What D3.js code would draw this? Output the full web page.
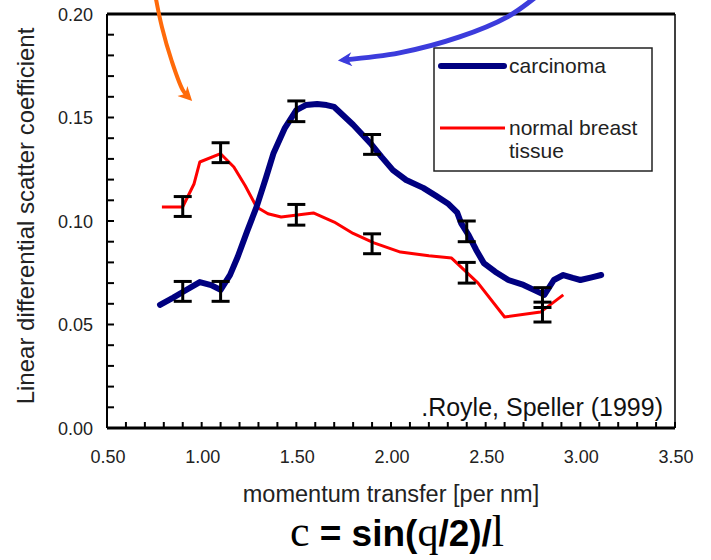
<!DOCTYPE html>
<html>
<head>
<meta charset="utf-8">
<script src="https://cdn.jsdelivr.net/npm/d3@7"></script>
<style>
  html, body { margin: 0; padding: 0; background: #ffffff; }
  svg { display: block; }
  text { font-family: "Liberation Sans", Arial, sans-serif; }
</style>
</head>
<body>
<svg id="chart" width="711" height="560"></svg>
<script>
// ---------- data ----------
const xTicks = [0.5, 1.0, 1.5, 2.0, 2.5, 3.0, 3.5];
const yTicks = [0.00, 0.05, 0.10, 0.15, 0.20];

const carcinomaX = [0.78, 0.85, 0.90, 0.99, 1.05, 1.10, 1.15, 1.19, 1.24, 1.29, 1.34, 1.38, 1.44, 1.50, 1.55, 1.61, 1.66, 1.70, 1.80, 1.89, 1.95, 2.01, 2.08, 2.17, 2.24, 2.30, 2.35, 2.37, 2.41, 2.45, 2.49, 2.55, 2.62, 2.70, 2.76, 2.81, 2.86, 2.91, 2.96, 3.00, 3.06, 3.11];
const carcinomaY = [0.0595, 0.0630, 0.0657, 0.0705, 0.0690, 0.0667, 0.0740, 0.0826, 0.0950, 0.1068, 0.1210, 0.1329, 0.1450, 0.1536, 0.1560, 0.1565, 0.1560, 0.1551, 0.1465, 0.1377, 0.1310, 0.1246, 0.1198, 0.1160, 0.1120, 0.1085, 0.1040, 0.0990, 0.0932, 0.0860, 0.0797, 0.0755, 0.0715, 0.0691, 0.0665, 0.0643, 0.0715, 0.0739, 0.0725, 0.0715, 0.0728, 0.0739];

const normalX = [0.79, 0.90, 0.96, 0.99, 1.10, 1.17, 1.23, 1.29, 1.35, 1.42, 1.59, 1.70, 1.80, 1.91, 2.05, 2.20, 2.32, 2.46, 2.60, 2.79, 2.91];
const normalY = [0.1068, 0.1068, 0.1180, 0.1285, 0.1325, 0.1261, 0.1170, 0.1068, 0.1035, 0.1019, 0.1039, 0.0995, 0.0940, 0.0894, 0.0850, 0.0832, 0.0821, 0.0700, 0.0536, 0.0560, 0.0643];

const errorX = [0.9, 1.1, 1.5, 1.9, 2.4, 2.8];
const carcinomaErrCenter = [0.066, 0.066, 0.153, 0.137, 0.095, 0.063];
const normalErrCenter = [0.107, 0.133, 0.103, 0.089, 0.075, 0.056];
const errHalf = [0.0048, 0.0048, 0.0050, 0.0048, 0.0050, 0.0048];

// annotation arrows (data units)
const orangeArrowX = [0.755, 0.790, 0.840, 0.900, 0.929];
const orangeArrowY = [0.209, 0.1937, 0.1778, 0.1633, 0.1599];
const blueArrowX = [2.775, 2.615, 2.362, 2.045, 1.749];
const blueArrowY = [0.209, 0.1986, 0.1889, 0.1812, 0.1778];

const seriesNames = ["carcinoma", "normal breast", "tissue"];

// ---------- layout ----------
const svg = d3.select("#chart");
const plotL = 107, plotR = 675, plotT = 14, plotB = 428;
const x = d3.scaleLinear().domain([0.5, 3.5]).range([plotL, plotR]);
const y = d3.scaleLinear().domain([0, 0.2]).range([plotB, plotT]);

const navy = "#000080", red = "#ff0000";

const xMinor = d3.range(5, 36).map(d => d / 10);
const yMinor = d3.range(0, 21).map(d => d / 100);

const g = svg.append("g");

g.selectAll(".ytk").data(yMinor).enter().append("line")
  .attr("x1", plotL).attr("x2", plotL + 7)
  .attr("y1", d => y(d)).attr("y2", d => y(d))
  .attr("stroke", "#000").attr("stroke-width", 2);
g.selectAll(".xtk").data(xMinor).enter().append("line")
  .attr("x1", d => x(d)).attr("x2", d => x(d))
  .attr("y1", plotB).attr("y2", plotB - 6)
  .attr("stroke", "#000").attr("stroke-width", 2);

g.append("line").attr("x1", plotL).attr("x2", plotR).attr("y1", plotT).attr("y2", plotT).attr("stroke", "#000").attr("stroke-width", 3);
g.append("line").attr("x1", plotL).attr("x2", plotR).attr("y1", plotB).attr("y2", plotB).attr("stroke", "#000").attr("stroke-width", 3);
g.append("line").attr("x1", plotL).attr("x2", plotL).attr("y1", plotT).attr("y2", plotB).attr("stroke", "#000").attr("stroke-width", 2);
g.append("line").attr("x1", plotR).attr("x2", plotR).attr("y1", plotT).attr("y2", plotB).attr("stroke", "#000").attr("stroke-width", 1.5);

g.selectAll(".xl").data(xTicks).enter().append("text")
  .attr("x", d => x(d) + 1).attr("y", 463)
  .attr("text-anchor", "middle").attr("font-size", 18).attr("fill", "#222")
  .text(d => d3.format(".2f")(d));
g.selectAll(".yl").data(yTicks).enter().append("text")
  .attr("x", 93).attr("y", d => y(d) + 6.5)
  .attr("text-anchor", "end").attr("font-size", 18).attr("fill", "#222")
  .text(d => d3.format(".2f")(d));

g.append("text").attr("x", 391).attr("y", 502).attr("text-anchor", "middle")
  .attr("font-size", 23.5).attr("fill", "#222").text("momentum transfer [per nm]");
g.append("text").attr("transform", "translate(34,216) rotate(-90)")
  .attr("text-anchor", "middle").attr("font-size", 24).attr("fill", "#222")
  .text("Linear differential scatter coefficient");

const line = d3.line().x(d => x(d[0])).y(d => y(d[1])).curve(d3.curveLinear);
const normalPts = normalX.map((v, i) => [v, normalY[i]]);
const carcPts = carcinomaX.map((v, i) => [v, carcinomaY[i]]);

g.append("path").attr("d", line(normalPts)).attr("fill", "none")
  .attr("stroke", red).attr("stroke-width", 3).attr("stroke-linejoin", "round");
g.append("path").attr("d", line(carcPts)).attr("fill", "none")
  .attr("stroke", navy).attr("stroke-width", 6).attr("stroke-linejoin", "round").attr("stroke-linecap", "round");

function errBars(centers) {
  const data = errorX.map((v, i) => ({ x: v, c: centers[i], h: errHalf[i] }));
  const eg = g.append("g").attr("stroke", "#000").attr("stroke-width", 3);
  data.forEach(d => {
    eg.append("line").attr("x1", x(d.x)).attr("x2", x(d.x)).attr("y1", y(d.c - d.h)).attr("y2", y(d.c + d.h));
    eg.append("line").attr("x1", x(d.x) - 9).attr("x2", x(d.x) + 9).attr("y1", y(d.c - d.h)).attr("y2", y(d.c - d.h));
    eg.append("line").attr("x1", x(d.x) - 9).attr("x2", x(d.x) + 9).attr("y1", y(d.c + d.h)).attr("y2", y(d.c + d.h));
  });
}
errBars(normalErrCenter);
errBars(carcinomaErrCenter);

g.append("rect").attr("x", 434).attr("y", 48).attr("width", 218).attr("height", 123)
  .attr("fill", "#fff").attr("stroke", "#222").attr("stroke-width", 1.5);
g.append("line").attr("x1", 441).attr("x2", 504).attr("y1", 66).attr("y2", 66)
  .attr("stroke", navy).attr("stroke-width", 6).attr("stroke-linecap", "round");
g.append("line").attr("x1", 440).attr("x2", 505).attr("y1", 128).attr("y2", 128)
  .attr("stroke", red).attr("stroke-width", 3);
g.append("text").attr("x", 509).attr("y", 73).attr("font-size", 21).attr("fill", "#222").text(seriesNames[0]);
g.append("text").attr("x", 509).attr("y", 135).attr("font-size", 21).attr("fill", "#222").text(seriesNames[1]);
g.append("text").attr("x", 509).attr("y", 158).attr("font-size", 21).attr("fill", "#222").text(seriesNames[2]);

g.append("text").attr("x", 663).attr("y", 416).attr("text-anchor", "end")
  .attr("font-size", 25).attr("fill", "#111").text(".Royle, Speller (1999)");

const f = g.append("text").attr("x", 397).attr("y", 546).attr("text-anchor", "middle").attr("fill", "#000");
f.append("tspan").attr("font-family", "'Liberation Serif', 'Times New Roman', serif").attr("font-size", 44).text("c");
f.append("tspan").attr("font-weight", "bold").attr("font-size", 37).text(" = sin(");
f.append("tspan").attr("font-family", "'Liberation Serif', 'Times New Roman', serif").attr("font-size", 42).text("q");
f.append("tspan").attr("font-weight", "bold").attr("font-size", 37).text("/2)/");
f.append("tspan").attr("font-family", "'Liberation Serif', 'Times New Roman', serif").attr("font-size", 44).text("l");

const defs = svg.append("defs");
function marker(id, color) {
  defs.append("marker").attr("id", id).attr("viewBox", "0 0 10 10")
    .attr("refX", 6).attr("refY", 5).attr("markerWidth", 16).attr("markerHeight", 14)
    .attr("markerUnits", "userSpaceOnUse").attr("orient", "auto")
    .append("path").attr("d", "M0,0 L10,5 L0,10 L3,5 Z").attr("fill", color);
}
marker("mOrange", "#ff6a0a");
marker("mBlue", "#3c3cdc");
const arrowLine = d3.line().x(d => x(d[0])).y(d => y(d[1])).curve(d3.curveCatmullRom);
g.append("path").attr("d", arrowLine(orangeArrowX.map((v, i) => [v, orangeArrowY[i]])))
  .attr("fill", "none").attr("stroke", "#ff6a0a").attr("stroke-width", 4).attr("marker-end", "url(#mOrange)");
g.append("path").attr("d", arrowLine(blueArrowX.map((v, i) => [v, blueArrowY[i]])))
  .attr("fill", "none").attr("stroke", "#3c3cdc").attr("stroke-width", 5).attr("marker-end", "url(#mBlue)");
</script>
</body>
</html>
